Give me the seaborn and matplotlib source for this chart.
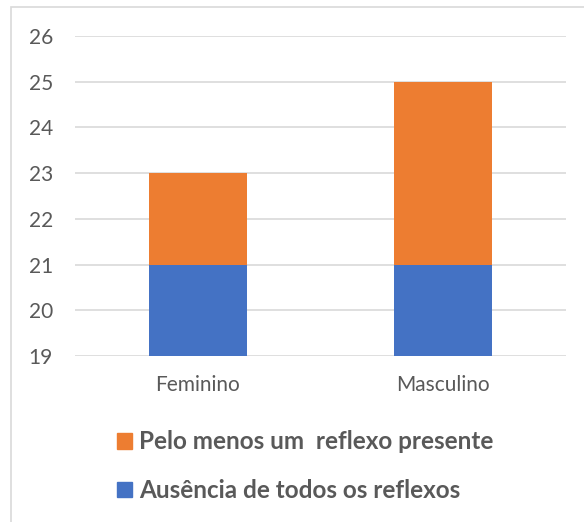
import numpy as np
import pandas as pd
import matplotlib.pyplot as plt
import seaborn as sns
from matplotlib.patches import Patch, Rectangle

# data
sexo = ['Feminino', 'Masculino']
ausencia = [21, 21]
pelo_menos = [2, 4]
totais = [a + p for a, p in zip(ausencia, pelo_menos)]

cor_azul = '#4472C4'
cor_laranja = '#ED7D31'
cinza_txt = '#595959'

sns.set_theme(style='white')
plt.rcParams['font.family'] = ['Lato', 'DejaVu Sans']

df = pd.DataFrame({'Sexo': sexo, 'Ausencia': ausencia, 'Total': totais})

fig = plt.figure(figsize=(5.84, 5.22), dpi=100)
ax = fig.add_axes([0.1284, 0.318, 0.8406, 0.613])

# stacked: total behind, base on top
sns.barplot(data=df, x='Sexo', y='Total', color=cor_laranja, width=0.4,
            saturation=1, linewidth=0, ax=ax, zorder=3)
sns.barplot(data=df, x='Sexo', y='Ausencia', color=cor_azul, width=0.4,
            saturation=1, linewidth=0, ax=ax, zorder=3)

ax.set_ylim(19, 26)
ax.set_xlim(-0.5, 1.5)
ax.set_yticks(range(19, 27))
ax.grid(axis='y', color='#D9D9D9', linewidth=1.2, zorder=0)
ax.set_axisbelow(True)
for s in ax.spines.values():
    s.set_visible(False)
ax.set_xlabel('')
ax.set_ylabel('')
ax.tick_params(axis='both', length=0, labelsize=15, colors=cinza_txt)
ax.tick_params(axis='y', pad=16)
ax.tick_params(axis='x', pad=14)

handles = [Patch(color=cor_laranja, label='Pelo menos um  reflexo presente'),
           Patch(color=cor_azul, label='Ausência de todos os reflexos')]
leg = fig.legend(handles=handles, loc='upper left', bbox_to_anchor=(0.183, 0.194),
                 frameon=False, handlelength=0.62, handleheight=0.62,
                 handletextpad=0.3, labelspacing=1.05, borderaxespad=0,
                 prop={'weight': 'bold', 'size': 17.5})
for t in leg.get_texts():
    t.set_color(cinza_txt)

# chart area border
fig.patches.append(Rectangle((11 / 584, -0.05), 1.0, 1 - 7 / 522 + 0.05,
                             transform=fig.transFigure, fill=False,
                             edgecolor='#D9D9D9', linewidth=1.2))

fig.savefig('out.png', dpi=100)
